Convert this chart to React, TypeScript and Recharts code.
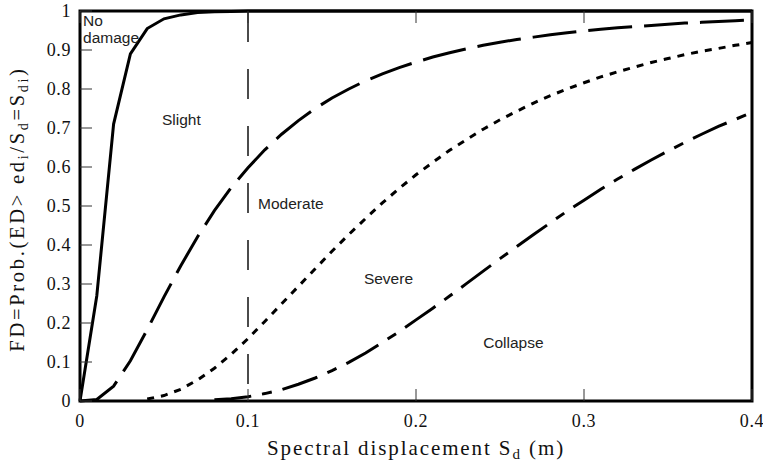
import React from 'react';
import { LineChart, Line, XAxis, YAxis, ReferenceLine, ReferenceDot, ReferenceArea } from 'recharts';

const sd = [
  0, 0.01, 0.02, 0.03, 0.04, 0.05, 0.06, 0.07, 0.08, 0.09,
  0.1, 0.11, 0.12, 0.13, 0.14, 0.15, 0.16, 0.17, 0.18, 0.19,
  0.2, 0.21, 0.22, 0.23, 0.24, 0.25, 0.26, 0.27, 0.28, 0.29,
  0.3, 0.31, 0.32, 0.33, 0.34, 0.35, 0.36, 0.37, 0.38, 0.39, 0.4,
];

const slight = [
  0, 0.27, 0.71, 0.89, 0.955, 0.98, 0.99, 0.996, 0.998, 0.999,
  1, 1, 1, 1, 1, 1, 1, 1, 1, 1,
  1, 1, 1, 1, 1, 1, 1, 1, 1, 1,
  1, 1, 1, 1, 1, 1, 1, 1, 1, 1, 1,
];

const moderate = [
  0, 0.004, 0.038, 0.103, 0.183, 0.267, 0.347, 0.421, 0.488, 0.547,
  0.598, 0.644, 0.684, 0.719, 0.75, 0.777, 0.8, 0.821, 0.839, 0.855,
  0.869, 0.882, 0.893, 0.903, 0.912, 0.92, 0.927, 0.933, 0.939, 0.944,
  0.949, 0.953, 0.957, 0.96, 0.963, 0.966, 0.969, 0.971, 0.973, 0.975, 0.977,
];

const severe = [
  null, null, null, null, 0.005, 0.014, 0.03, 0.054, 0.084, 0.12,
  0.16, 0.204, 0.249, 0.294, 0.339, 0.384, 0.427, 0.468, 0.508, 0.545,
  0.58, 0.612, 0.643, 0.67, 0.697, 0.721, 0.743, 0.764, 0.783, 0.8,
  0.816, 0.831, 0.844, 0.856, 0.868, 0.878, 0.888, 0.897, 0.904, 0.912, 0.919,
];

const collapse = [
  null, null, null, null, null, null, null, null, 0.003, 0.006,
  0.011, 0.019, 0.029, 0.043, 0.059, 0.078, 0.099, 0.123, 0.15, 0.178,
  0.208, 0.238, 0.269, 0.301, 0.333, 0.365, 0.396, 0.427, 0.457, 0.487,
  0.515, 0.543, 0.569, 0.594, 0.618, 0.641, 0.663, 0.684, 0.704, 0.722, 0.74,
];

const xTicks = [0, 0.1, 0.2, 0.3, 0.4];
const xTickLabels = ['0', '0.1', '0.2', '0.3', '0.4'];
const yTicks = [0, 0.1, 0.2, 0.3, 0.4, 0.5, 0.6, 0.7, 0.8, 0.9, 1];
const yTickLabels = ['0', '0.1', '0.2', '0.3', '0.4', '0.5', '0.6', '0.7', '0.8', '0.9', '1'];

const stateNames = ['No', 'damage', 'Slight', 'Moderate', 'Severe', 'Collapse'];
const stateX = [0.0018, 0.0018, 0.0488, 0.106, 0.169, 0.24];
const stateY = [0.9615, 0.918, 0.708, 0.492, 0.3, 0.136];

const data = sd.map((x, i) => ({
  x,
  slight: slight[i],
  moderate: moderate[i],
  severe: severe[i],
  collapse: collapse[i],
}));

const SERIF = '"Liberation Serif", "DejaVu Serif", serif';
const SANS = '"Liberation Sans", Arial, sans-serif';
const TICK_LEN = 12;

const labelFor = (ticks: number[], labels: string[], v: number) => {
  const i = ticks.findIndex((t) => Math.abs(t - v) < 1e-9);
  return i >= 0 ? labels[i] : String(v);
};

const BottomTick = (props: any) => {
  const { x, y, payload } = props;
  return (
    <g>
      <line x1={x} x2={x} y1={y} y2={y - TICK_LEN} stroke="#333" strokeWidth={1} />
      <text x={x} y={y + 26} textAnchor="middle" fontFamily={SERIF} fontSize={18} letterSpacing={0.6} fill="#111">
        {labelFor(xTicks, xTickLabels, payload.value)}
      </text>
    </g>
  );
};

const TopTick = (props: any) => {
  const { x, y } = props;
  return <line x1={x} x2={x} y1={y} y2={y + TICK_LEN} stroke="#333" strokeWidth={1} />;
};

const LeftTick = (props: any) => {
  const { x, y, payload } = props;
  return (
    <g>
      <line x1={x} x2={x + TICK_LEN} y1={y} y2={y} stroke="#333" strokeWidth={1} />
      <text x={x - 9} y={y + 6} textAnchor="end" fontFamily={SERIF} fontSize={18} letterSpacing={0.6} fill="#111">
        {labelFor(yTicks, yTickLabels, payload.value)}
      </text>
    </g>
  );
};

const RightTick = (props: any) => {
  const { x, y } = props;
  return <line x1={x} x2={x - TICK_LEN} y1={y} y2={y} stroke="#333" strokeWidth={1} />;
};

const XLabel = (props: any) => {
  const vb = props.viewBox;
  const cx = vb.x + vb.width / 2;
  const by = vb.y + 54;
  return (
    <text x={cx} y={by} textAnchor="middle" fontFamily={SERIF} fontSize={21} letterSpacing={1.9} fill="#111">
      Spectral displacement S
      <tspan fontSize={15} dy={4}>d</tspan>
      <tspan dy={-4}> (m)</tspan>
    </text>
  );
};

const YLabel = (props: any) => {
  const vb = props.viewBox;
  const cx = vb.x + 24;
  const cy = vb.y + vb.height / 2 + 3;
  return (
    <text
      x={cx}
      y={cy}
      textAnchor="middle"
      transform={`rotate(-90, ${cx}, ${cy})`}
      fontFamily={SERIF}
      fontSize={20.5}
      letterSpacing={2.7}
      fill="#111"
    >
      FD=Prob.(ED&gt; ed
      <tspan fontSize={14} dy={4}>i</tspan>
      <tspan dy={-4}>/S</tspan>
      <tspan fontSize={14} dy={4}>d</tspan>
      <tspan dy={-4}>=S</tspan>
      <tspan fontSize={14} dy={4}>di</tspan>
      <tspan dy={-4}>)</tspan>
    </text>
  );
};

const StateText = (text: string) => (p: any) => (
  <text x={p.cx} y={p.cy} textAnchor="start" fontFamily={SANS} fontSize={15.5} fill="#222">
    {text}
  </text>
);

export default function App() {
  return (
    <div style={{ position: 'absolute', left: 0, top: 0 }}>
      <LineChart
        width={763}
        height={463}
        data={data}
        margin={{ top: 10, right: 10, bottom: 0, left: 0 }}
      >
        <XAxis
          dataKey="x"
          type="number"
          domain={[0, 0.4]}
          ticks={xTicks}
          height={62}
          axisLine={false}
          tickLine={false}
          tickSize={0}
          tickMargin={0}
          tick={BottomTick}
          interval={0}
          label={{ content: XLabel }}
        />
        <XAxis
          xAxisId="top"
          orientation="top"
          dataKey="x"
          type="number"
          domain={[0, 0.4]}
          ticks={xTicks}
          height={1}
          axisLine={false}
          tickLine={false}
          tickSize={0}
          tickMargin={0}
          tick={TopTick}
          interval={0}
        />
        <YAxis
          type="number"
          domain={[0, 1]}
          ticks={yTicks}
          width={80}
          axisLine={false}
          tickLine={false}
          tickSize={0}
          tickMargin={0}
          tick={LeftTick}
          interval={0}
          label={{ content: YLabel }}
        />
        <YAxis
          yAxisId="right"
          orientation="right"
          type="number"
          domain={[0, 1]}
          ticks={yTicks}
          width={1}
          axisLine={false}
          tickLine={false}
          tickSize={0}
          tickMargin={0}
          tick={RightTick}
          interval={0}
        />
        <ReferenceLine x={0.1} stroke="#111" strokeWidth={1.5} strokeDasharray="30 27" strokeDashoffset={40} />
        <Line dataKey="slight" type="linear" stroke="#000" strokeWidth={3} dot={false} isAnimationActive={false} />
        <Line dataKey="moderate" type="linear" stroke="#000" strokeWidth={3} strokeDasharray="44 12" dot={false} isAnimationActive={false} />
        <Line dataKey="severe" type="linear" stroke="#000" strokeWidth={3} strokeDasharray="7 7" dot={false} isAnimationActive={false} />
        <Line dataKey="collapse" type="linear" stroke="#000" strokeWidth={3} strokeDasharray="37 11 10 11" dot={false} isAnimationActive={false} />
        {stateNames.map((name, i) => (
          <ReferenceDot key={i} x={stateX[i]} y={stateY[i]} r={0} shape={StateText(name)} />
        ))}
        <ReferenceArea x1={0} x2={0.4} y1={0} y2={1} fill="none" stroke="#000" strokeWidth={3} />
      </LineChart>
    </div>
  );
}
